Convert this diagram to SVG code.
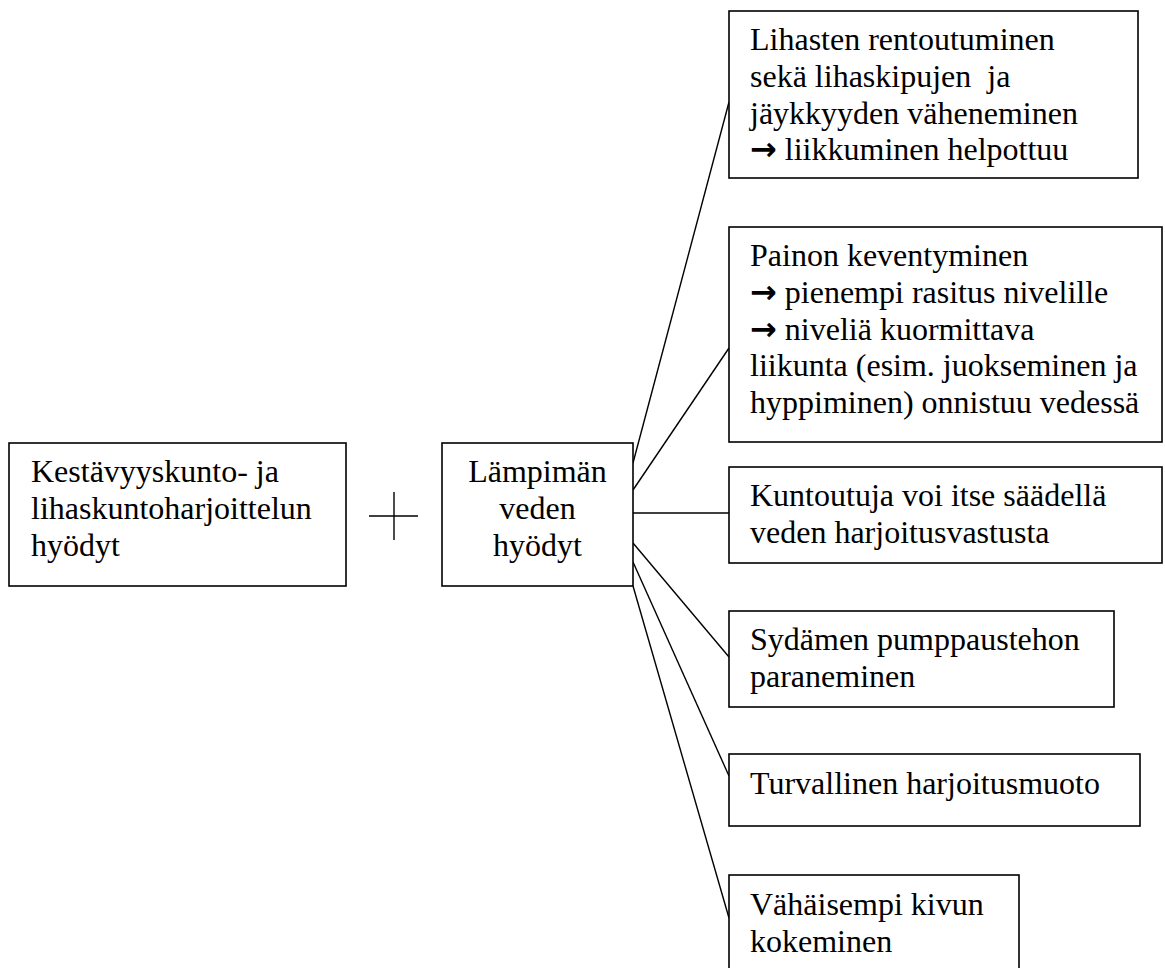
<svg xmlns="http://www.w3.org/2000/svg" width="1165" height="968" viewBox="0 0 1165 968">
  <style>
    .box { fill: #ffffff; stroke: #000000; stroke-width: 1.6; }
    .link { stroke: #000000; stroke-width: 1.4; fill: none; }
    text { font-family: "Liberation Serif", "Times New Roman", serif; font-size: 32px; fill: #000000; white-space: pre; }
    .mid { text-anchor: middle; }
    .arw { font-family: "DejaVu Sans", sans-serif; font-weight: bold; font-size: 32px; }
  </style>
  <rect width="1165" height="968" fill="#ffffff"/>

  <!-- connectors fanning out from the warm-water node -->
  <g id="connectors">
    <line class="link" x1="633" y1="463" x2="729" y2="102"/>
    <line class="link" x1="633" y1="490" x2="729" y2="348"/>
    <line class="link" x1="633" y1="513" x2="729" y2="513"/>
    <line class="link" x1="633" y1="543" x2="729" y2="657"/>
    <line class="link" x1="633" y1="562" x2="729" y2="776"/>
    <line class="link" x1="633" y1="586" x2="729" y2="918"/>
    <!-- plus sign between the two left nodes -->
    <line class="link" x1="369" y1="516" x2="418" y2="516"/>
    <line class="link" x1="394" y1="492" x2="394" y2="540"/>
  </g>

  <g id="node-kestavyys">
    <rect class="box" x="9" y="443" width="337" height="143"/>
    <text x="31" y="482">Kestävyyskunto- ja</text>
    <text x="31" y="519">lihaskuntoharjoittelun</text>
    <text x="31" y="556">hyödyt</text>
  </g>

  <g id="node-lampiman">
    <rect class="box" x="442" y="443" width="191" height="143"/>
    <text class="mid" x="537.5" y="482">Lämpimän</text>
    <text class="mid" x="537.5" y="519">veden</text>
    <text class="mid" x="537.5" y="556">hyödyt</text>
  </g>

  <g id="node-rentoutuminen">
    <rect class="box" x="729" y="11" width="409" height="167"/>
    <text x="750" y="50">Lihasten rentoutuminen</text>
    <text x="750" y="87">sekä lihaskipujen  ja</text>
    <text x="750" y="124">jäykkyyden väheneminen</text>
    <text x="750" y="160"><tspan class="arw">→</tspan> liikkuminen helpottuu</text>
  </g>

  <g id="node-painon">
    <rect class="box" x="729" y="227" width="433" height="215"/>
    <text x="750" y="266">Painon keventyminen</text>
    <text x="750" y="303"><tspan class="arw">→</tspan> pienempi rasitus nivelille</text>
    <text x="750" y="340"><tspan class="arw">→</tspan> niveliä kuormittava</text>
    <text x="750" y="376">liikunta (esim. juokseminen ja</text>
    <text x="750" y="413">hyppiminen) onnistuu vedessä</text>
  </g>

  <g id="node-kuntoutuja">
    <rect class="box" x="729" y="467" width="433" height="96"/>
    <text x="750" y="506">Kuntoutuja voi itse säädellä</text>
    <text x="750" y="543">veden harjoitusvastusta</text>
  </g>

  <g id="node-sydamen">
    <rect class="box" x="729" y="611" width="385" height="96"/>
    <text x="750" y="650">Sydämen pumppaustehon</text>
    <text x="750" y="687">paraneminen</text>
  </g>

  <g id="node-turvallinen">
    <rect class="box" x="729" y="754" width="411" height="72"/>
    <text x="750" y="794">Turvallinen harjoitusmuoto</text>
  </g>

  <g id="node-vahaisempi">
    <rect class="box" x="729" y="875" width="290" height="110"/>
    <text x="750" y="915">Vähäisempi kivun</text>
    <text x="750" y="952">kokeminen</text>
  </g>
</svg>
